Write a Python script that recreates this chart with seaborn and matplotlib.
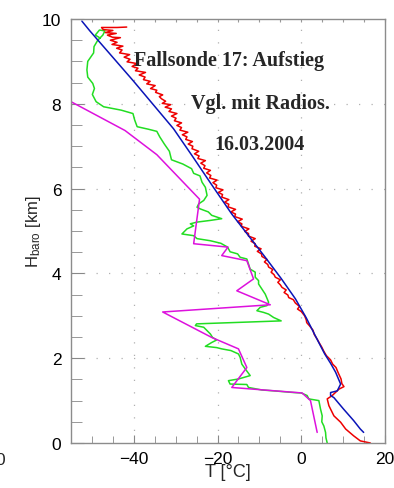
import matplotlib
matplotlib.use('Agg')
import matplotlib.pyplot as plt
import numpy as np
import pandas as pd
import seaborn as sns

# Fallsonde (red), ascent (T in degC, H in km)
red_T = [-41.7, -44.0, -47.7, -47.3, -45.0, -46.8, -44.2, -46.3, -45.1, -43.2, -45.6, -44.0,
         -45.2, -42.6, -44.1, -42.8, -43.4, -41.0, -42.3, -40.9, -41.6, -39.3, -40.4, -39.0,
         -39.6, -37.2, -38.7, -37.3, -37.7, -36.1, -36.9, -34.9, -36.0, -34.5, -34.8, -33.1,
         -33.9, -33.4, -32.4, -33.2, -31.2, -32.5, -31.0, -31.6, -29.7, -31.0, -29.9, -30.3,
         -28.6, -29.7, -28.6, -29.0, -27.1, -28.4, -27.3, -27.6, -26.0, -27.0, -25.9, -26.1,
         -24.5, -25.5, -24.4, -24.7, -22.9, -24.0, -23.0, -23.3, -21.7, -22.6, -21.6, -21.9,
         -20.1, -21.1, -20.2, -20.4, -18.7, -19.8, -18.8, -19.0, -17.3, -18.3, -17.3, -17.5,
         -15.7, -16.8, -15.7, -15.9, -14.1, -15.2, -14.2, -14.3, -12.5, -13.5, -12.6, -12.6,
         -11.0, -12.0, -11.0, -11.1, -9.6, -10.5, -9.5, -9.4, -8.2, -8.8, -8.0, -7.8,
         -6.8, -7.2, -6.5, -6.2, -5.0, -5.6, -5.0, -4.6, -3.6, -4.1, -3.2, -3.0, -1.9,
         -1.4, -0.4, -0.9, 0.0, 0.8, 1.2, 1.3, 2.0, 2.8, 3.1, 3.8, 4.3, 4.9, 5.4, 6.0,
         7.0, 7.5, 8.3, 8.8, 9.5, 9.7, 10.2, 9.0, 7.4, 6.2, 6.6, 7.8, 9.4, 10.6, 12.5,
         14.1, 16.5]
red_H = [9.81, 9.80, 9.80, 9.75, 9.73, 9.68, 9.66, 9.62, 9.57, 9.56, 9.50, 9.45,
         9.40, 9.36, 9.31, 9.27, 9.20, 9.16, 9.10, 9.05, 8.99, 8.95, 8.88, 8.84,
         8.78, 8.74, 8.68, 8.63, 8.57, 8.53, 8.47, 8.43, 8.36, 8.32, 8.27, 8.21,
         8.17, 8.12, 8.06, 8.01, 7.98, 7.92, 7.88, 7.82, 7.77, 7.71, 7.66, 7.60,
         7.55, 7.49, 7.44, 7.38, 7.33, 7.27, 7.22, 7.16, 7.11, 7.05, 7.00, 6.94,
         6.88, 6.82, 6.77, 6.71, 6.66, 6.60, 6.54, 6.48, 6.43, 6.37, 6.31, 6.25,
         6.20, 6.14, 6.08, 6.02, 5.97, 5.91, 5.86, 5.80, 5.74, 5.68, 5.63, 5.57,
         5.51, 5.45, 5.40, 5.34, 5.28, 5.22, 5.17, 5.11, 5.05, 4.99, 4.94, 4.88,
         4.82, 4.76, 4.70, 4.64, 4.58, 4.52, 4.46, 4.40, 4.33, 4.27, 4.21, 4.15,
         4.09, 4.03, 3.97, 3.91, 3.85, 3.79, 3.73, 3.67, 3.61, 3.55, 3.49, 3.43, 3.38,
         3.30, 3.22, 3.16, 3.10, 3.00, 2.90, 2.84, 2.76, 2.66, 2.56, 2.45, 2.36, 2.26, 2.16, 2.06,
         1.96, 1.86, 1.78, 1.66, 1.51, 1.40, 1.33, 1.27, 1.12, 1.04, 0.88, 0.64, 0.49, 0.33, 0.17,
         0.05, 0.00]

# smooth profile (blue)
blue_T = [-52.4, -50.5, -40.2, -30.5, -25.9, -21.6, -16.6, -8.6, -4.8, -1.4, 1.2, 3.5,
          5.6, 7.0, 8.2, 9.4, 8.6, 7.0, 7.0, 7.8, 10.1, 12.5, 14.1, 14.9]
blue_H = [9.95, 9.72, 8.55, 7.41, 6.75, 6.12, 5.40, 4.38, 3.88, 3.40, 2.95, 2.50,
          2.10, 1.88, 1.67, 1.39, 1.23, 1.19, 1.12, 1.07, 0.80, 0.53, 0.33, 0.25]

# radiosonde (green)
green_T = [-48.0, -49.2, -48.2, -46.9, -47.4, -48.6, -49.5, -49.6, -51.0, -51.2, -51.0, -49.8,
           -49.4, -49.9, -49.0, -47.2, -43.0, -40.2, -39.8, -39.2, -36.5, -34.5, -33.8, -32.7,
           -31.5, -31.0, -28.3, -26.2, -25.7, -24.2, -23.7, -22.9, -22.5, -23.3, -24.5, -24.9,
           -24.1, -22.2, -21.4, -19.0, -21.7, -24.9, -26.5, -25.7, -27.3, -28.1, -28.5, -25.7,
           -24.9, -21.7, -19.2, -17.6, -17.0, -15.2, -14.6, -13.0, -12.6, -12.2, -11.0, -11.0,
           -10.2, -10.2, -9.4, -8.6, -7.8, -8.2, -9.8, -10.6, -9.0, -7.8, -6.6, -4.8,
           -25.0, -25.3, -23.3, -22.5, -21.7, -21.2, -20.2, -21.4, -22.9, -20.2, -19.0, -16.8,
           -15.0, -14.6, -14.2, -13.4, -12.2, -15.0, -17.4, -17.0, -13.0, -12.6, -9.4, -6.6,
           -1.8, 0.0, 1.4, 1.8, 4.2, 4.6, 5.0, 4.9, 5.4, 5.8, 5.9, 6.2]
green_H = [9.55, 9.62, 9.74, 9.72, 9.62, 9.50, 9.35, 9.20, 9.00, 8.80, 8.63, 8.48,
           8.36, 8.22, 8.05, 7.93, 7.85, 7.77, 7.62, 7.46, 7.40, 7.35, 7.22, 7.05,
           6.88, 6.68, 6.58, 6.47, 6.36, 6.30, 6.15, 6.03, 5.84, 5.72, 5.64, 5.56,
           5.52, 5.45, 5.37, 5.29, 5.25, 5.21, 5.17, 5.12, 5.05, 4.97, 4.93, 4.89,
           4.82, 4.77, 4.71, 4.62, 4.51, 4.46, 4.38, 4.34, 4.22, 4.10, 4.03, 3.91,
           3.83, 3.75, 3.63, 3.51, 3.32, 3.24, 3.20, 3.12, 3.08, 3.04, 2.96, 2.88,
           2.81, 2.77, 2.73, 2.65, 2.57, 2.49, 2.43, 2.37, 2.28, 2.25, 2.22, 2.18,
           2.10, 2.02, 1.86, 1.75, 1.59, 1.51, 1.47, 1.39, 1.38, 1.31, 1.25, 1.23,
           1.19, 1.18, 1.12, 1.04, 1.00, 0.80, 0.64, 0.50, 0.40, 0.25, 0.12, 0.00]

# radiosonde 2 (magenta)
mag_T = [-55.0, -42.1, -34.5, -24.3, -25.7, -17.5, -19.0, -13.0, -11.4, -15.4, -7.4,
         -33.1, -21.4, -15.0, -13.0, -16.6, 0.2, 2.2, 3.8]
mag_H = [8.05, 7.37, 6.80, 5.75, 4.70, 4.62, 4.42, 4.30, 3.87, 3.59, 3.26,
         3.09, 2.49, 2.22, 1.78, 1.31, 1.18, 1.00, 0.25]

title_lines = ['Fallsonde 17: Aufstieg', 'Vgl. mit Radios.', '16.03.2004']

sns.set_style('ticks')
plt.rcParams['font.family'] = ['Liberation Sans', 'DejaVu Sans']
plt.rcParams['mathtext.fontset'] = 'custom'
plt.rcParams['mathtext.rm'] = 'Liberation Sans'
plt.rcParams['mathtext.it'] = 'Liberation Sans'

fig = plt.figure(figsize=(3.94, 4.89), dpi=100)
ax = fig.add_axes([71 / 394, 1 - 444 / 489, 314 / 394, 424 / 489])

series = [(green_T, green_H, '#22dd22'), (mag_T, mag_H, '#dd11dd'),
          (red_T, red_H, '#ee0000'), (blue_T, blue_H, '#0a14b8')]
for T, H, col in series:
    df = pd.DataFrame({'T': T, 'H': H})
    sns.lineplot(data=df, x='T', y='H', sort=False, estimator=None, color=col,
                 linewidth=1.1, ax=ax)

ax.set_xlim(-55, 20)
ax.set_ylim(0, 10)
ax.set_xticks([-40, -20, 0, 20])
ax.set_xticks(np.arange(-55, 21, 5), minor=True)
ax.set_yticks([0, 2, 4, 6, 8, 10])
ax.set_yticks(np.arange(0, 10.01, 0.5), minor=True)
ax.tick_params(which='both', direction='in', top=False, right=False, color='#888888',
               labelsize=12.5, labelcolor='black')
ax.tick_params(axis='x', which='major', length=6, pad=6)
ax.tick_params(axis='x', which='minor', length=5)
ax.tick_params(axis='y', which='major', length=9, pad=7)
ax.tick_params(axis='y', which='minor', length=8)
for s in ax.spines.values():
    s.set_color('#8c8c8c')
    s.set_linewidth(1.0)

# small ticks along the top edge
top = ax.secondary_xaxis('top')
top.set_xticks(np.arange(-55, 21, 5))
top.set_xticklabels([])
top.tick_params(direction='in', length=2.5, color='#999999')
top.spines['top'].set_visible(False)

for v in [-40, -20, 0]:
    ax.axvline(v, color='#b0b0b0', lw=0.9, ls=(0, (1, 9)), zorder=0)
for v in [2, 4, 6, 8]:
    ax.axhline(v, color='#b0b0b0', lw=0.9, ls=(0, (1, 9)), zorder=0)

ax.set_xlabel('T [°C]', fontsize=13)
ax.xaxis.set_label_coords(0.5, -0.046)
ax.set_ylabel(r'$\mathrm{H_{baro}}$ [km]', fontsize=12)
ax.yaxis.set_label_coords(-0.09, 0.5)

title_pos = [(229.5, 61), (260, 104), (260, 145)]
for txt, (px, py) in zip(title_lines, title_pos):
    fig.text(px / 394, 1 - py / 489, txt, ha='center', va='center',
             family='Liberation Serif', fontweight='bold', fontsize=14.5)

fig.text(5 / 394, 1 - 461 / 489, '0', ha='right', va='center', fontsize=12.5)

fig.savefig('out.png', dpi=100)
